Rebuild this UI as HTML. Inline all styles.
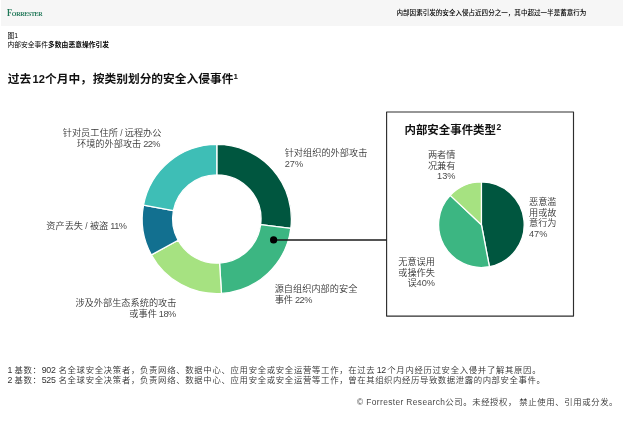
<!DOCTYPE html>
<html lang="zh-CN">
<head>
<meta charset="utf-8">
<title>Forrester</title>
<style>
html,body{margin:0;padding:0;background:#fff;}
body{width:624px;height:435px;position:relative;overflow:hidden;font-family:"Liberation Sans","Noto Sans CJK SC",sans-serif;color:#333;-webkit-font-smoothing:antialiased;}
.t{position:absolute;white-space:nowrap;margin:0;padding:0;}
#hdr{position:absolute;left:1px;top:0;width:622px;height:25.5px;background:#f6f6f6;}
#logo{left:7.1px;top:6.8px;transform-origin:0 0;transform:scale(0.218,0.25);line-height:48px;font-family:"Liberation Serif",serif;color:#1f7757;font-size:27.5px;letter-spacing:-1.4px;font-weight:bold;}
#logo b{font-weight:bold;font-size:37.5px;letter-spacing:-1px;}
#hdrt{left:396.5px;top:7.3px;line-height:12px;font-size:6.56px;color:#000;font-weight:500;}
.cap{font-size:6.77px;line-height:8.6px;color:#000;}
.h1{left:7.8px;top:70px;line-height:18px;font-size:11.73px;font-weight:700;color:#111;word-spacing:-1.9px;}
.h1 b{font-size:0.95em;}
.h1 sup,.h2 sup{font-size:8px;font-weight:700;vertical-align:baseline;position:relative;top:-4.5px;line-height:0;}
.lb{font-size:9.2px;line-height:11px;font-weight:350;color:#363636;}
.r{text-align:right;}
.n{font-size:0.9em;}
.lb .d{font-size:1em;letter-spacing:-0.55px;margin-left:-0.6px;}
.m{font-size:1em;}
.lb .d,.lb .m,.lb .n{color:#4c4c4c;}
.h2{left:404.5px;top:121px;line-height:18px;font-size:11.45px;font-weight:700;color:#111;}
.h2 sup{font-size:8.5px;margin-left:0.5px;top:-4.5px;}
.fn{font-size:8.4px;line-height:10px;font-weight:350;color:#333;letter-spacing:0.68px;word-spacing:-1.73px;}
.fn .n{font-size:8.8px;letter-spacing:-0.25px;}
.fn .k{margin-right:0.95px;}
.fn .g{margin-left:0px;margin-right:1.65px;}
.fn .l{letter-spacing:0.38px;word-spacing:0;color:#4a4a4a;}
.fn i{font-style:normal;letter-spacing:2.9px;}
svg{position:absolute;left:0;top:0;}
</style>
</head>
<body>
<div id="hdr"></div>
<div class="t" id="logo"><b>F</b>ORRESTER</div>
<div class="t" id="hdrt">内部因素引发的安全入侵占近四分之一，其中超过一半是蓄意行为</div>

<div class="t cap" style="left:7.5px;top:31.6px">图1</div>
<div class="t cap" style="left:7.5px;top:40.6px">内部安全事件<b>多数由恶意操作引发</b></div>

<div class="t h1">过去 <b>12</b>个月中<span style="letter-spacing:0.9px">，</span>按类别划分的安全入侵事件<sup>1</sup></div>

<svg width="624" height="435" viewBox="0 0 624 435">
  <g id="donut">
    <path d="M216.80 144.40A74.6 74.6 0 0 1 290.81 228.35L260.65 224.54A44.2 44.2 0 0 0 216.80 174.80Z" fill="#00563f" stroke="#fff" stroke-width="1.3" stroke-linejoin="round"/>
    <path d="M290.81 228.35A74.6 74.6 0 0 1 221.48 293.45L219.58 263.11A44.2 44.2 0 0 0 260.65 224.54Z" fill="#3cb682" stroke="#fff" stroke-width="1.3" stroke-linejoin="round"/>
    <path d="M221.48 293.45A74.6 74.6 0 0 1 151.43 254.94L178.07 240.29A44.2 44.2 0 0 0 219.58 263.11Z" fill="#a6e281" stroke="#fff" stroke-width="1.3" stroke-linejoin="round"/>
    <path d="M151.43 254.94A74.6 74.6 0 0 1 143.52 205.02L173.38 210.72A44.2 44.2 0 0 0 178.07 240.29Z" fill="#127090" stroke="#fff" stroke-width="1.3" stroke-linejoin="round"/>
    <path d="M143.52 205.02A74.6 74.6 0 0 1 216.80 144.40L216.80 174.80A44.2 44.2 0 0 0 173.38 210.72Z" fill="#3ebeb6" stroke="#fff" stroke-width="1.3" stroke-linejoin="round"/>
  </g>
  <g id="pie">
    <path d="M481.4 224.7L481.40 181.90A42.8 42.8 0 0 1 489.42 266.74Z" fill="#00563f" stroke="#fff" stroke-width="1.3" stroke-linejoin="round"/>
    <path d="M481.4 224.7L489.42 266.74A42.8 42.8 0 0 1 450.20 195.40Z" fill="#3cb682" stroke="#fff" stroke-width="1.3" stroke-linejoin="round"/>
    <path d="M481.4 224.7L450.20 195.40A42.8 42.8 0 0 1 481.40 181.90Z" fill="#a6e281" stroke="#fff" stroke-width="1.3" stroke-linejoin="round"/>
  </g>
  <rect x="386.6" y="112" width="186.9" height="204.1" fill="none" stroke="#2e2e2e" stroke-width="1.15" stroke-linejoin="round"/>
  <line x1="273.5" y1="239.95" x2="386.5" y2="239.95" stroke="#1a1a1a" stroke-width="1.35"/>
  <circle cx="273.6" cy="239.9" r="3.6" fill="#000"/>
</svg>

<div class="t lb r" style="right:462.5px;top:127.5px">针对员工住所<span class="n"> / </span>远程办公</div>
<div class="t lb r" style="right:464px;top:139px">环境的外部攻击 <span class="d">22%</span></div>
<div class="t lb" style="left:46.3px;top:220.6px">资产丢失<span class="n"> / </span>被盗 <span class="d">11%</span></div>
<div class="t lb r" style="right:447.5px;top:297.5px">涉及外部生态系统的攻击</div>
<div class="t lb r" style="right:448.4px;top:309px">或事件 <span class="d">18%</span></div>
<div class="t lb" style="left:284.7px;top:148.1px">针对组织的外部攻击</div>
<div class="t lb" style="left:284.7px;top:158.9px"><span class="m">27%</span></div>
<div class="t lb" style="left:274.7px;top:283.6px">源自组织内部的安全</div>
<div class="t lb" style="left:274.7px;top:294.5px">事件 <span class="d">22%</span></div>

<div class="t h2">内部安全事件类型<sup>2</sup></div>
<div class="t lb r" style="right:168.5px;top:150px">两者情</div>
<div class="t lb r" style="right:168.5px;top:160.8px">况兼有</div>
<div class="t lb r" style="right:168.5px;top:171.2px"><span class="m">13%</span></div>
<div class="t lb" style="left:529px;top:197px">恶意滥</div>
<div class="t lb" style="left:529px;top:207.8px">用或故</div>
<div class="t lb" style="left:529px;top:218.3px">意行为</div>
<div class="t lb" style="left:529px;top:228.9px"><span class="m">47%</span></div>
<div class="t lb r" style="right:189px;top:256.9px">无意误用</div>
<div class="t lb r" style="right:189px;top:268px">或操作失</div>
<div class="t lb r" style="right:189px;top:278.1px">误<span class="m">40%</span></div>

<div class="t fn" style="left:7.6px;top:364.6px"><span class="n k">1</span> 基数：<span class="n g">902</span> 名全球安全决策者，负责网络、数据中心、应用安全或安全运营等工作，在过去 <span class="n">12</span> 个月内经历过安全入侵并了解其原因。</div>
<div class="t fn" style="left:7.6px;top:375.3px"><span class="n k">2</span> 基数：<span class="n g">525</span> 名全球安全决策者，负责网络、数据中心、应用安全或安全运营等工作，<span style="letter-spacing:0.585px">曾在其组织内经历导致数据泄露的内部安全事件。</span></div>
<div class="t fn" style="left:357px;top:397px;letter-spacing:0.6px"><span class="l">© Forrester Research</span>公司。未经授权<i>，</i>禁止使用、引用或分发。</div>
</body>
</html>
